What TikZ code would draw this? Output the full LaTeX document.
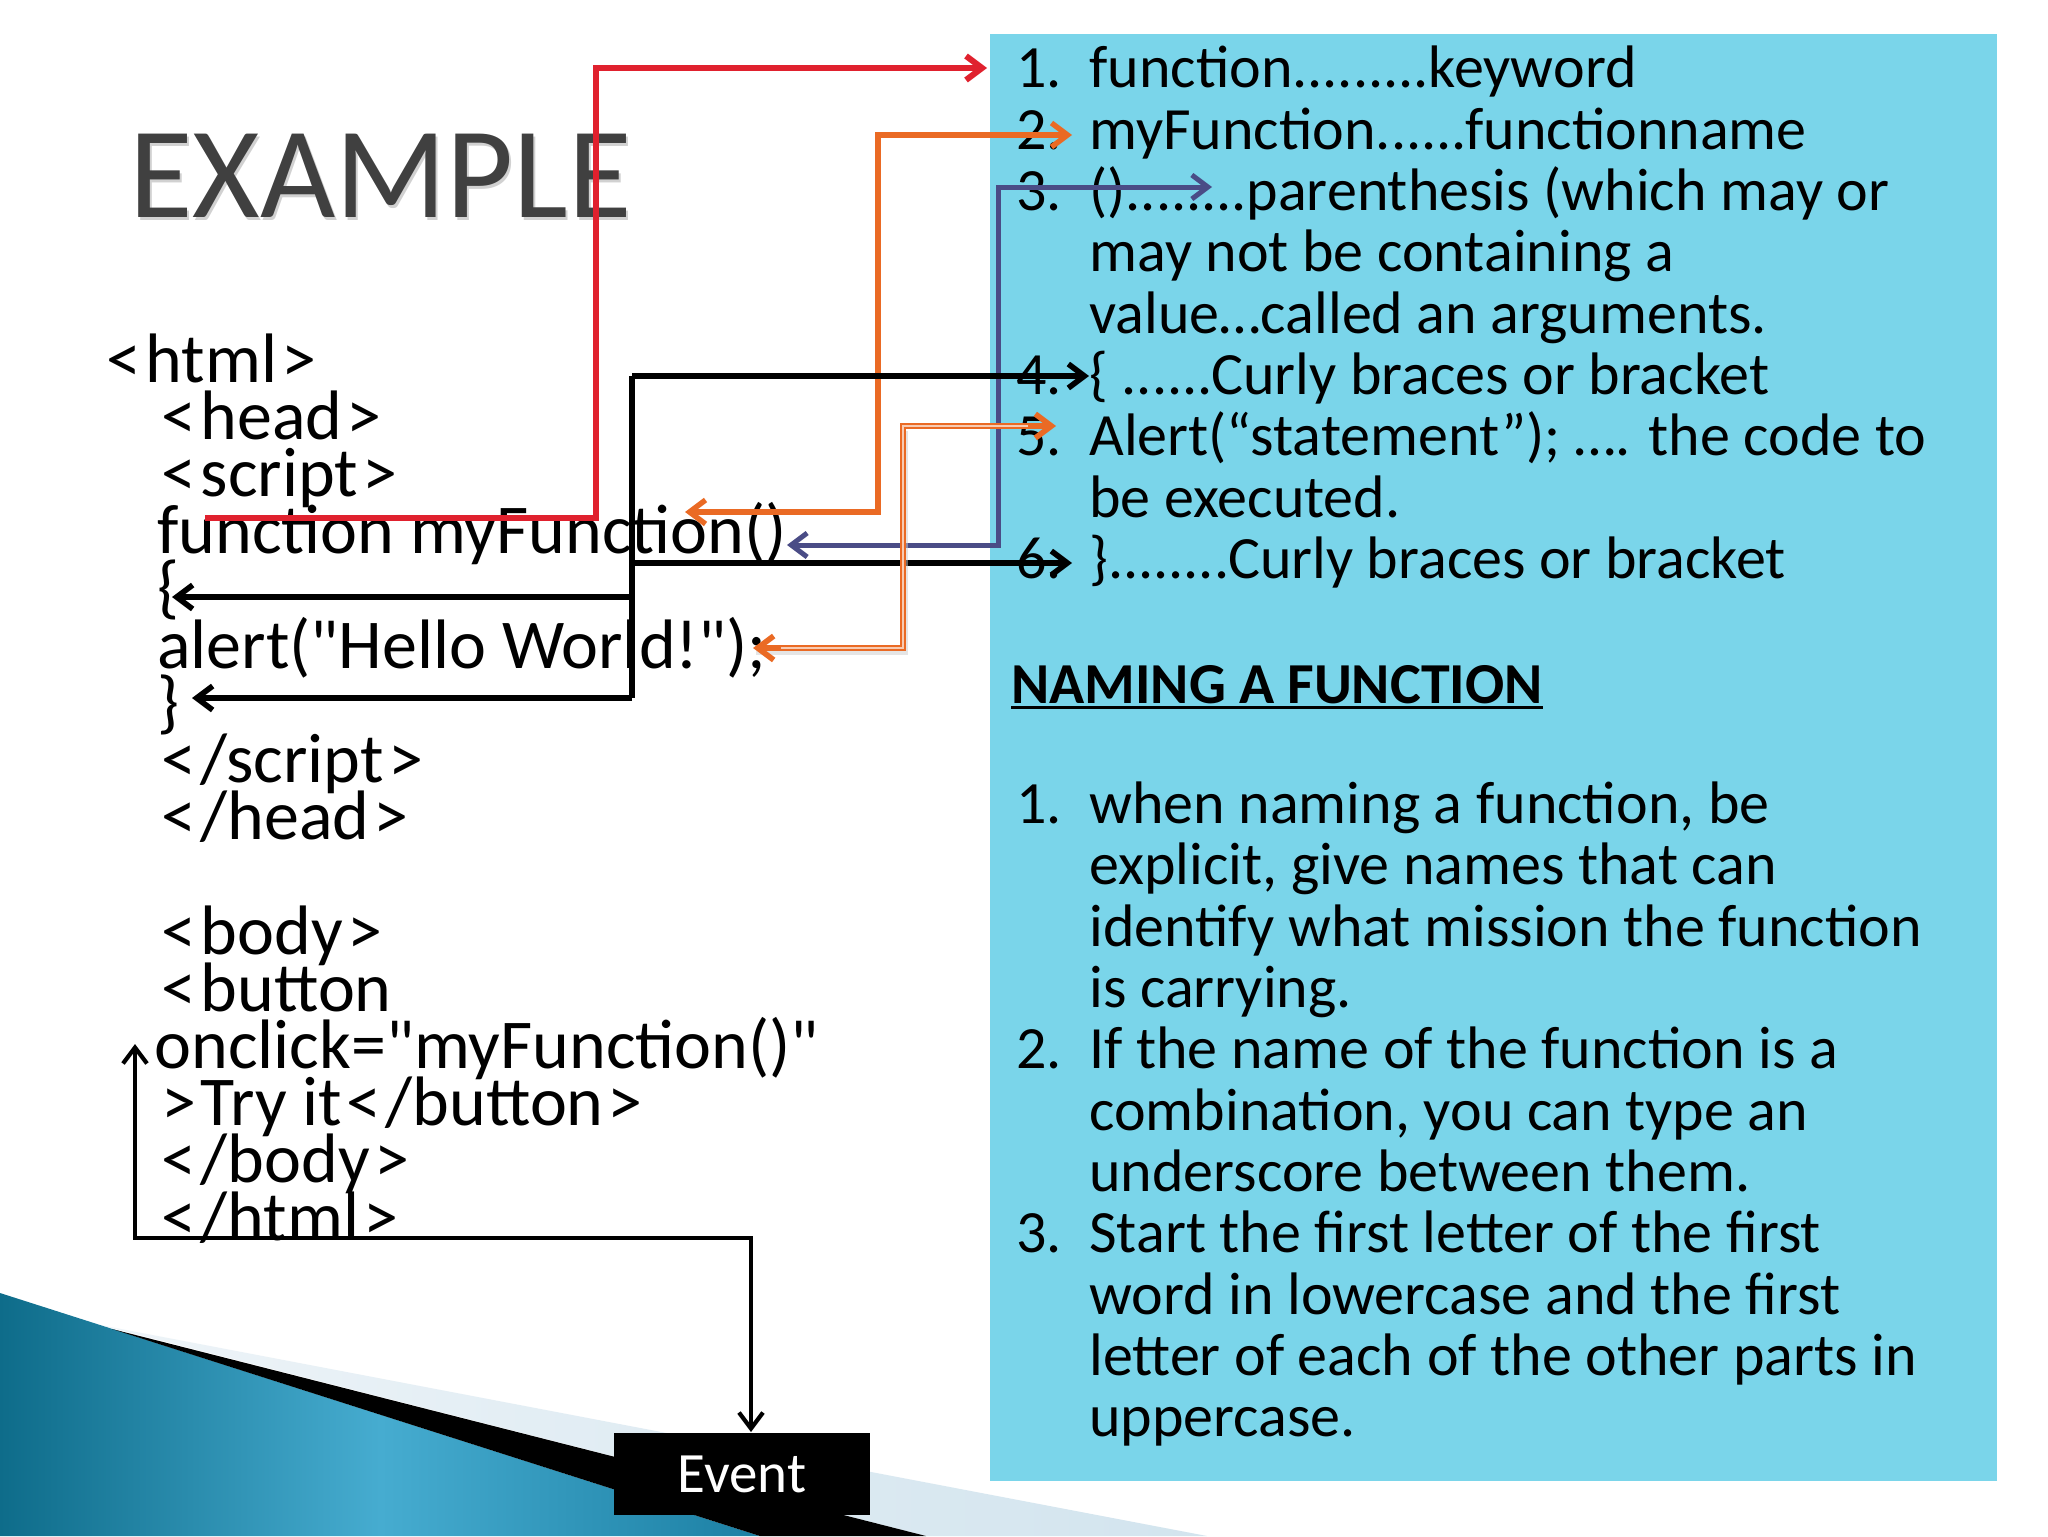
\documentclass[tikz,border=0pt]{standalone}
\usepackage{fontspec}
\setmainfont{Carlito}
\newfontfamily\codefont{Carlito}
\usetikzlibrary{arrows.meta}
\definecolor{boxblue}{HTML}{7AD5EA}
\definecolor{redc}{HTML}{E0212E}
\definecolor{orgc}{HTML}{EA6A24}
\definecolor{navc}{HTML}{4A4C86}
\definecolor{titlec}{HTML}{404040}
\definecolor{tealA}{HTML}{0E6C8A}
\definecolor{tealB}{HTML}{46ACD0}
\definecolor{tealC}{HTML}{1C80A4}
\definecolor{wedgeA}{HTML}{EEF4F8}
\definecolor{wedgeB}{HTML}{D2E4EE}
\newcommand\myul[1]{\setbox0\hbox{#1}\rlap{\rule[-3pt]{\wd0}{1.6pt}}\box0}
\newcommand\LT{\makebox[0.62em]{<}}
\newcommand\GT{\makebox[0.62em]{>}}
\tikzset{
  codeline/.style={anchor=base west, inner sep=0pt, font=\codefont\fontsize{35pt}{40pt}\selectfont},
  rline/.style={anchor=base west, inner sep=0pt, font=\fontsize{30pt}{34pt}\selectfont},
  redline/.style={draw=redc, line width=3pt},
  orgline/.style={draw=orgc, line width=2.7pt},
  navline/.style={draw=navc, line width=2.5pt},
  blkline/.style={draw=black, line width=2.8pt},
  evline/.style={draw=black, line width=2.1pt},
  dblorg/.style={draw=orgc, line width=2.8pt},
  dblin/.style={draw=orgc!35, line width=0.9pt},
}
\begin{document}
\begin{tikzpicture}[x=0.5pt,y=-0.5pt,>={Straight Barb[length=8pt,width=12pt]}]
\useasboundingbox (0,0) rectangle (2048,1536);
\fill[white] (0,0) rectangle (2048,1536);

% bottom swoosh
\shade[left color=wedgeA, right color=wedgeB] (100,1325) -- (1207,1536) -- (926,1536) -- cycle;
\shade[left color=tealA, right color=tealC, middle color=tealB] (0,1293) -- (760,1536) -- (0,1536) -- cycle;
\fill[black] (112,1329) -- (926,1536) -- (760,1536) -- cycle;

% right panel
\fill[boxblue] (990,34) rectangle (1997,1481);

% title
\node[anchor=base west, inner sep=0pt, text=black, opacity=0.18, font=\fontsize{65pt}{70pt}\selectfont] (titlesh) at (131,220) {EXAMPLE};
\node[anchor=base west, inner sep=0pt, text=titlec, font=\fontsize{65pt}{70pt}\selectfont] (title) at (129,217) {EXAMPLE};

% code
\node[codeline] (c0) at (102,382) {\LT html\GT};
\node[codeline] (c1) at (157,439.2) {\LT head\GT};
\node[codeline] (c2) at (157,496.4) {\LT script\GT};
\node[codeline] (c3) at (157,553.6) {function myFunction()};
\node[codeline] (c4) at (157,610.8) {\{};
\node[codeline] (c5) at (157,668) {alert("Hello World!");};
\node[codeline] (c6) at (157,725.2) {\}};
\node[codeline] (c7) at (157,782.4) {\LT/script\GT};
\node[codeline] (c8) at (157,839.6) {\LT/head\GT};
\node[codeline] (c10) at (157,954) {\LT body\GT};
\node[codeline] (c11) at (157,1011.2) {\LT button};
\node[codeline] (c12) at (154,1068.4) {onclick="myFunction()"};
\node[codeline] (c13) at (157,1125.6) {\GT Try it\LT/button\GT};
\node[codeline] (c14) at (157,1182.8) {\LT/body\GT};
\node[codeline] (c15) at (157,1240) {\LT/html\GT};

% right text
\node[rline] (n1) at (1016,88) {1.};
\node[rline] (t1) at (1089,88) {function.........keyword};
\node[rline] (n2) at (1016,149.3) {2.};
\node[rline] (t2) at (1089,149.3) {myFunction......functionname};
\node[rline] (n3) at (1016,210.6) {3.};
\node[rline] (t3) at (1089,210.6) {()........parenthesis (which may or};
\node[rline] (t3b) at (1089,271.9) {may not be containing a};
\node[rline] (t3c) at (1089,333.2) {value…called an arguments.};
\node[rline] (n4) at (1016,394.5) {4.};
\node[rline] (t4) at (1089,394.5) {\{ ......Curly braces or bracket};
\node[rline] (n5) at (1016,455.8) {5.};
\node[rline] (t5) at (1089,455.8) {Alert(“statement”); …. the code to};
\node[rline] (t5b) at (1089,517.1) {be executed.};
\node[rline] (n6) at (1016,578.4) {6.};
\node[rline] (t6) at (1089,578.4) {\}........Curly braces or bracket};
\node[rline, font=\bfseries\fontsize{29pt}{34pt}\selectfont] (head) at (1011,703) {\myul{NAMING A FUNCTION}};
\node[rline] (m1) at (1016,823.6) {1.};
\node[rline] (u1) at (1089,823.6) {when naming a function, be};
\node[rline] (u1b) at (1089,884.9) {explicit, give names that can};
\node[rline] (u1c) at (1089,946.2) {identify what mission the function};
\node[rline] (u1d) at (1089,1007.5) {is carrying.};
\node[rline] (m2) at (1016,1068.8) {2.};
\node[rline] (u2) at (1089,1068.8) {If the name of the function is a};
\node[rline] (u2b) at (1089,1130.1) {combination, you can type an};
\node[rline] (u2c) at (1089,1191.4) {underscore between them.};
\node[rline] (m3) at (1016,1252.7) {3.};
\node[rline] (u3) at (1089,1252.7) {Start the first letter of the first};
\node[rline] (u3b) at (1089,1314) {word in lowercase and the first};
\node[rline] (u3c) at (1089,1375.3) {letter of each of the other parts in};
\node[rline] (u3d) at (1089,1436.6) {uppercase.};

% event box
\node[fill=black, text=white, minimum width=128pt, minimum height=41pt, inner sep=0pt,
      font=\fontsize{28.5pt}{32pt}\selectfont] (ev) at (742,1474) {Event};

% connector points
\coordinate (rS) at (205,518);
\coordinate (rA) at (596,518);
\coordinate (rB) at (596,68);
\coordinate (rE) at (987,68);
\coordinate (oL) at (685,512);
\coordinate (oA) at (878,512);
\coordinate (oB) at (878,135);
\coordinate (oR) at (1072,135);
\coordinate (vL) at (787,545);
\coordinate (vA) at (998,545);
\coordinate (vB) at (998,187);
\coordinate (vR) at (1212,187);
\coordinate (kT) at (632,376);
\coordinate (k4) at (1089,376);
\coordinate (kM) at (632,563);
\coordinate (k6) at (1072,563);
\coordinate (kO) at (632,597);
\coordinate (kOb) at (172,597);
\coordinate (kC) at (632,698);
\coordinate (kCb) at (192,698);
\coordinate (dL) at (753,648);
\coordinate (dA) at (903,648);
\coordinate (dB) at (903,426);
\coordinate (dR) at (1056,426);
\coordinate (eT) at (751,1432);
\coordinate (eA) at (751,1238);
\coordinate (eB) at (135,1238);
\coordinate (eO) at (135,1044);

% connectors
\draw[redline,->] (rS) -- (rA) -- (rB) -- (rE);
\draw[orgline,<->] (oL) -- (oA) -- (oB) -- (oR);
\draw[navline,<->] (vL) -- (vA) -- (vB) -- (vR);
\draw[blkline] (kT) -- (kC);
\draw[blkline,->] (kT) -- (k4);
\draw[blkline,->] (kM) -- (k6);
\draw[blkline,->] (kO) -- (kOb);
\draw[blkline,->] (kC) -- (kCb);
\draw[black!20, line width=2pt, opacity=0.5] ([shift={(3,5)}]dL) -- ([shift={(3,5)}]dA) -- ([shift={(3,5)}]dB);
\draw[dblorg,<->] (dL) -- (dA) -- (dB) -- (dR);
\draw[dblin, shorten <=14pt, shorten >=14pt] (dL) -- (dA) -- (dB) -- (dR);
\draw[evline,<->] (eT) -- (eA) -- (eB) -- (eO);
\end{tikzpicture}
\end{document}
